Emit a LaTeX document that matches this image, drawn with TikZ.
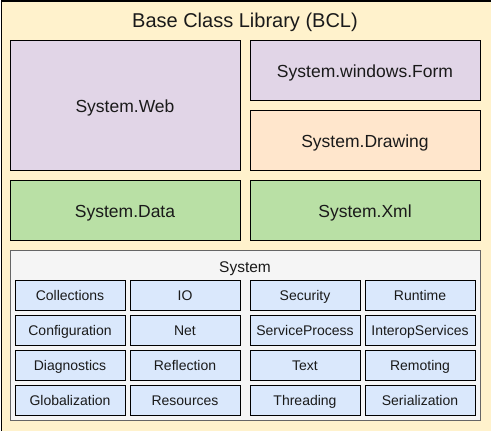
\documentclass[tikz,border=0pt]{standalone}
\usepackage{fontspec}
\setmainfont{Liberation Sans}
\usetikzlibrary{positioning}

\definecolor{bclyellow}{HTML}{FFF2CC}
\definecolor{webpurple}{HTML}{E1D5E7}
\definecolor{draworange}{HTML}{FFE6CC}
\definecolor{datagreen}{HTML}{B9E0A5}
\definecolor{sysgray}{HTML}{F5F5F5}
\definecolor{sysline}{HTML}{666666}
\definecolor{modblue}{HTML}{DAE8FC}
\definecolor{inktext}{HTML}{1A1A1A}

\begin{document}
\begin{tikzpicture}[x=1pt, y=-1pt,
bigbox/.style={rectangle, draw=black, line width=1pt, inner sep=0pt, outer sep=0pt, minimum width=230pt, minimum height=60pt, text=inktext, text height=15.2pt, text depth=1pt, font=\fontsize{17.5}{20}\selectfont},
sysbox/.style={rectangle, draw=sysline, fill=sysgray, line width=1pt, inner sep=0pt, minimum width=470pt, minimum height=170pt},
modbox/.style={rectangle, draw=black, fill=modblue, line width=0.8pt, inner sep=0pt, outer sep=0pt, minimum width=110pt, minimum height=30pt, text=inktext, text height=12pt, text depth=1pt, font=\fontsize{14}{16}\selectfont},
]
\useasboundingbox (0,0) rectangle (491,431);

%Frame
\node[rectangle, draw=black, fill=bclyellow, line width=1pt, inner sep=0pt, minimum width=490pt, minimum height=430pt, anchor=north west] (bcl) at (0.5,0.5) {};
\node[text=inktext, text height=14.3pt, text depth=0pt, font=\fontsize{20}{24}\selectfont] (title) at (245,20.3) {Base Class Library (BCL)};

%Namespaces
\node[bigbox, fill=webpurple, minimum height=130pt, anchor=north west] (web) at (10,40) {System.Web};
\node[bigbox, fill=datagreen] (data) [below=10pt of web] {System.Data};
\node[bigbox, fill=webpurple, anchor=north west] (form) at (250,40) {System.windows.Form};
\node[bigbox, fill=draworange] (drawing) [below=10pt of form] {System.Drawing};
\node[bigbox, fill=datagreen] (xml) [below=10pt of drawing] {System.Xml};

%System
\node[sysbox, anchor=north west] (system) at (10,250) {};
\node[text=inktext, text height=11.1pt, text depth=0pt, font=\fontsize{15.5}{18}\selectfont] (syslabel) at (245,266.5) {System};

\node[modbox, anchor=north west] (coll) at (15,280) {Collections};
\node[modbox] (io)       [right=5pt of coll]  {IO};
\node[modbox] (security) [right=10pt of io]   {Security};
\node[modbox] (runtime)  [right=5pt of security] {Runtime};

\node[modbox] (config)   [below=5pt of coll]     {Configuration};
\node[modbox] (net)      [below=5pt of io]       {Net};
\node[modbox] (service)  [below=5pt of security] {ServiceProcess};
\node[modbox] (interop)  [below=5pt of runtime]  {InteropServices};

\node[modbox] (diag)     [below=5pt of config]   {Diagnostics};
\node[modbox] (reflect)  [below=5pt of net]      {Reflection};
\node[modbox] (text)     [below=5pt of service]  {Text};
\node[modbox] (remoting) [below=5pt of interop]  {Remoting};

\node[modbox] (global)   [below=5pt of diag]     {Globalization};
\node[modbox] (resource) [below=5pt of reflect]  {Resources};
\node[modbox] (thread)   [below=5pt of text]     {Threading};
\node[modbox] (serial)   [below=5pt of remoting] {Serialization};
\end{tikzpicture}
\end{document}
